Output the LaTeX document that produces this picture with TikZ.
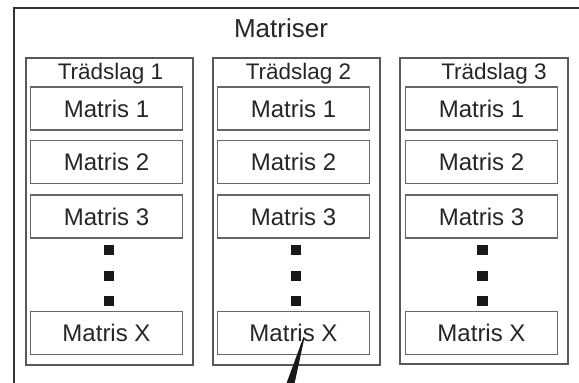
\documentclass[tikz,border=0pt]{standalone}
\usepackage{fontspec}
\setmainfont{Liberation Sans}
\begin{document}
\begin{tikzpicture}[x=1pt,y=-1pt,
  every node/.style={inner sep=0pt, text=black!85},
  outerframe/.style={draw=black!80, line width=2.6pt},
  column/.style={draw=black!65, line width=1.2pt, rectangle, minimum width=167pt, minimum height=307pt},
  matbox/.style={draw=black!60, line width=1.2pt, rectangle, minimum width=152pt, minimum height=43pt,
    font=\fontsize{24}{29}\selectfont, text height=17.3pt, text depth=0pt},
  coltitle/.style={anchor=base, font=\fontsize{22.5}{27}\selectfont},
  dotmark/.style={fill=black!90, rectangle, minimum size=10.5pt},
  pointer/.style={fill=black!90, draw=none}]
\useasboundingbox (0,0) rectangle (579,383);
\fill[white] (0,0) rectangle (579,383);
\clip (0,0) rectangle (579,383);

% outer frame running past the right and bottom edges
\draw[outerframe] (14,400) -- (14,8) -- (600,8);
\node[anchor=base, font=\fontsize{26}{31}\selectfont] (title) at (281,37) {Matriser};

% three columns
\node[column] (c1) at (109.5,211.5) {};
\node[column] (c2) at (296.5,211.5) {};
\node[column, minimum width=168pt, minimum height=306pt] (c3) at (484,211) {};

\node[coltitle] (t1) at (110.5,79) {Trädslag 1};
\node[coltitle] (t2) at (298.5,79) {Trädslag 2};
\node[coltitle] (t3) at (494,79) {Trädslag 3};

% matrices of each column
\foreach \c/\x in {1/106.5, 2/293.5, 3/481.5} {
  \node[matbox] (m\c a) at (\x,108.5) {Matris 1};
  \node[matbox] (m\c b) at (\x,162) {Matris 2};
  \node[matbox] (m\c c) at (\x,216.5) {Matris 3};
  \node[matbox] (m\c x) at (\x,333) {Matris X};
}

% vertical ellipsis between Matris 3 and Matris X
\foreach \c/\x in {1/109, 2/296, 3/482.5} {
  \node[dotmark] (d\c a) at (\x,250) {};
  \node[dotmark] (d\c b) at (\x,276) {};
  \node[dotmark] (d\c c) at (\x,301) {};
}

% tapered pointer leaving Matris X of the second column
\coordinate (ptip) at (303.5,337);
\fill[pointer] (ptip) -- (304.5,337.5) -- (294,386) -- (285.5,386) -- cycle;
\end{tikzpicture}
\end{document}
